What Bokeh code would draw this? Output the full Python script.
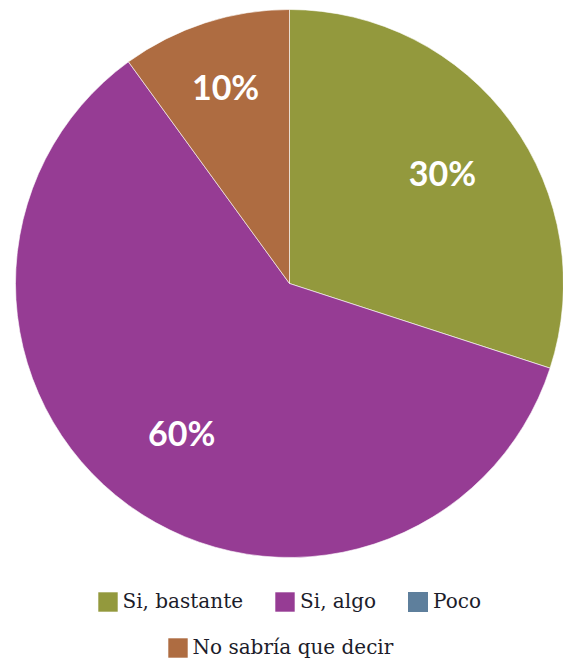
import math
from bokeh.plotting import figure
from bokeh.models import ColumnDataSource, Range1d, Legend, LegendItem
from bokeh.embed import file_html
from bokeh.resources import INLINE
from bokeh.core.properties import value

categories = ["Si, bastante", "Si, algo", "Poco", "No sabría que decir"]
values = [30, 60, 0, 10]
labels = ["30%", "60%", "", "10%"]
colors = ["#93993D", "#963C94", "#5E7F9C", "#AE6C41"]
label_radius = [0.69, 0.67, 0.7, 0.755]

W, H = 563, 662
cx, cy, R = 289, 379, 274

total = sum(values)
p = figure(width=W, height=H, output_backend="svg", toolbar_location=None,
           x_range=Range1d(0, W), y_range=Range1d(0, H), min_border=0)
p.axis.visible = False
p.grid.visible = False
p.outline_line_color = None
p.background_fill_color = "white"

renderers = []
lx, ly, lt = [], [], []
cum = 0
for cat, v, col, lab, lr in zip(categories, values, colors, labels, label_radius):
    a0 = math.pi / 2 - 2 * math.pi * cum / total
    a1 = math.pi / 2 - 2 * math.pi * (cum + v) / total
    rad = R if v > 0 else 0
    r = p.wedge(x=cx, y=cy, radius=rad, start_angle=a0, end_angle=a1 - 1e-9,
                direction="clock", fill_color=col,
                line_color="white" if v > 0 else None, line_width=0.6)
    renderers.append(r)
    if v > 0:
        mid = (a0 + a1) / 2
        lx.append(cx + lr * R * math.cos(mid))
        ly.append(cy + lr * R * math.sin(mid))
        lt.append(lab)
    cum += v

p.text(x=lx, y=ly, text=lt, text_color="white",
       text_font=value("Lato"), text_font_style="bold", text_font_size="34px",
       text_align="center", text_baseline="middle")

common = dict(orientation="horizontal", padding=0, margin=0,
              border_line_color=None, background_fill_alpha=0,
              glyph_width=25, glyph_height=25, label_standoff=3, spacing=29,
              label_text_font="DejaVu Serif", label_text_font_size="20px",
              label_text_color="#1c1c2a", label_height=25)

leg1 = Legend(items=[LegendItem(label=categories[i], renderers=[renderers[i]]) for i in range(3)],
              location=(94.5, 48.5), **common)
leg2 = Legend(items=[LegendItem(label=categories[3], renderers=[renderers[3]])],
              location=(164.5, 2.5), **common)
p.add_layout(leg1)
p.add_layout(leg2)

open("out.html", "w").write(file_html(p, INLINE))
